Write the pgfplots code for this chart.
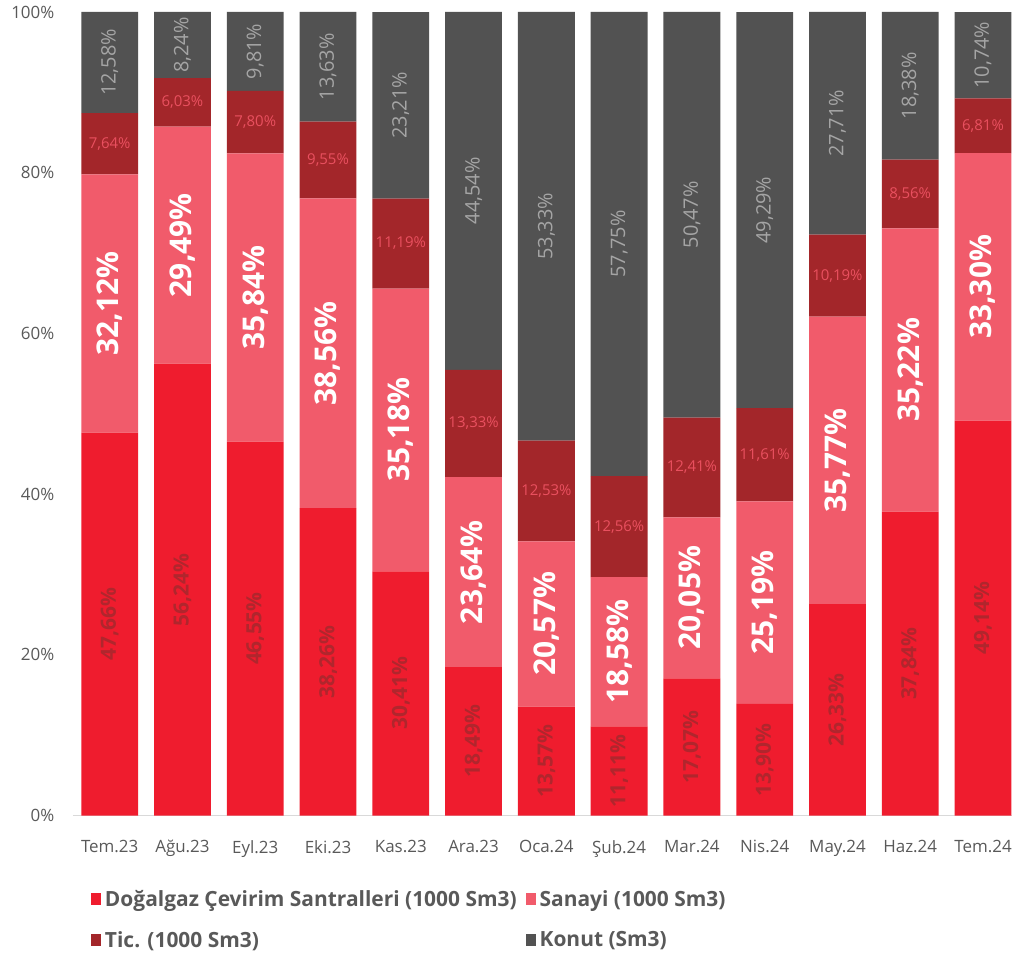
\documentclass[border=0pt]{standalone}
\usepackage{pgfplots}
\pgfplotsset{compat=1.18}
\usepackage{pgfplotstable}
\usepackage{fontspec}
\setmainfont{Open Sans}

\definecolor{dgz}{HTML}{EF1C2E}
\definecolor{san}{HTML}{F15B6B}
\definecolor{tic}{HTML}{A3262A}
\definecolor{kon}{HTML}{525252}
\definecolor{dgzlbl}{HTML}{B0262D}
\definecolor{ticlbl}{HTML}{E9505F}
\definecolor{konlbl}{HTML}{A5A5A5}
\definecolor{lbl}{HTML}{595959}
\definecolor{axgray}{HTML}{D9D9D9}

% shares in percent, per month
\pgfplotstableread{
x d s t k
0 47.66 32.12 7.64 12.58
1 56.24 29.49 6.03 8.24
2 46.55 35.84 7.80 9.81
3 38.26 38.56 9.55 13.63
4 30.41 35.18 11.19 23.21
5 18.49 23.64 13.33 44.54
6 13.57 20.57 12.53 53.33
7 11.11 18.58 12.56 57.75
8 17.07 20.05 12.41 50.47
9 13.90 25.19 11.61 49.29
10 26.33 35.77 10.19 27.71
11 37.84 35.22 8.56 18.38
12 49.14 33.30 6.81 10.74
}\shares
% label positions: middle of each segment
\pgfplotstablecreatecol[expr={\thisrow{d}/2}]{dm}\shares
\pgfplotstablecreatecol[expr={\thisrow{d}+\thisrow{s}/2}]{sm}\shares
\pgfplotstablecreatecol[expr={\thisrow{d}+\thisrow{s}+\thisrow{t}/2}]{tm}\shares
\pgfplotstablecreatecol[expr={\thisrow{d}+\thisrow{s}+\thisrow{t}+\thisrow{k}/2}]{km}\shares

\pgfplotsset{
    frame/.style={
        scale only axis,
        width=942pt, height=806pt,
        xmin=-0.507, xmax=12.4, ymin=0, ymax=100,
    },
    lab/.style={
        point meta=explicit,
        nodes near coords={\pgfmathprintnumber[fixed,fixed zerofill,precision=2,use comma,assume math mode=true]{\pgfplotspointmeta}\%},
        nodes near coords align=center,
        every node near coord/.append style={anchor=center, inner sep=0pt, #1},
    },
}

\begin{document}
\begin{tikzpicture}
\begin{axis}[
    frame,
    ybar stacked, bar width=57pt,
    xtick={0,...,12},
    xticklabels={Tem.23,Ağu.23,Eyl.23,Eki.23,Kas.23,Ara.23,Oca.24,Şub.24,Mar.24,Nis.24,May.24,Haz.24,Tem.24},
    ytick={0,20,40,60,80,100},
    yticklabels={0\%,20\%,40\%,60\%,80\%,100\%},
    axis x line=bottom, axis y line=left,
    x axis line style={draw=axgray, line width=1.5pt, -},
    y axis line style={draw=none},
    major tick length=0pt,
    tick label style={font=\fontsize{17}{20}\selectfont, text=lbl},
    yticklabel style={xshift=-15pt},
    xticklabel style={yshift=-21pt},
    legend columns=2,
    legend cell align=left,
    legend style={at={(0.016,-0.088)}, anchor=north west, draw=none, fill=none,
        font=\fontsize{21}{24}\selectfont\bfseries, text=lbl, row sep=19pt,
        /tikz/every odd column/.append style={column sep=2pt},
        /tikz/every even column/.append style={column sep=7pt}},
    legend image code/.code={\fill[#1,draw=none] (0pt,-6pt) rectangle (10pt,6pt);},
]
\addplot[fill=dgz, draw=none] table[x=x, y=d] {\shares};
\addplot[fill=san, draw=none] table[x=x, y=s] {\shares};
\addplot[fill=tic, draw=none] table[x=x, y=t] {\shares};
\addplot[fill=kon, draw=none] table[x=x, y=k] {\shares};
\legend{Doğalgaz Çevirim Santralleri (1000 Sm3), Sanayi (1000 Sm3), Tic. (1000 Sm3), Konut (Sm3)}
\end{axis}
\begin{axis}[frame, hide axis]
\addplot[draw=none, lab={rotate=90, text=dgzlbl, font=\fontsize{21}{24}\selectfont\bfseries}]
    table[x=x, y=dm, meta=d] {\shares};
\addplot[draw=none, lab={rotate=90, text=white, font=\fontsize{30}{34}\selectfont\bfseries}]
    table[x=x, y=sm, meta=s] {\shares};
\addplot[draw=none, lab={text=ticlbl, font=\fontsize{15}{18}\selectfont}]
    table[x=x, y=tm, meta=t] {\shares};
\addplot[draw=none, lab={rotate=90, text=konlbl, font=\fontsize{20}{24}\selectfont}]
    table[x=x, y=km, meta=k] {\shares};
\end{axis}
\path (-73pt,-134pt) rectangle (942pt,818pt);
\end{tikzpicture}
\end{document}
